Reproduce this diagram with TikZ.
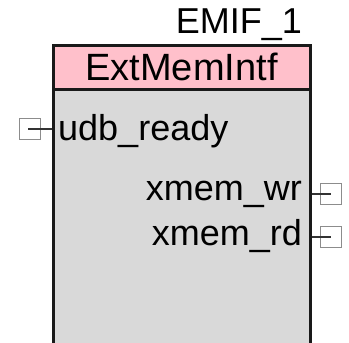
\documentclass[tikz,border=0pt]{standalone}
\usepackage{fontspec}
\setmainfont{Liberation Sans}
\definecolor{hdrpink}{RGB}{255,192,203}
\definecolor{bodygray}{RGB}{217,217,217}
\begin{document}
\begin{tikzpicture}[x=1pt,y=-1pt,
  lbl/.style={inner sep=0pt,font=\fontsize{36}{36}\selectfont},
  pinbox/.style={draw=black!45,line width=1pt,minimum width=21pt,minimum height=21pt,inner sep=0pt},
  pinline/.style={draw=black!80,line width=1.2pt}]
\useasboundingbox (0,0) rectangle (349,343);
% body
\node[draw=black!90,line width=3pt,fill=bodygray,minimum width=257pt,minimum height=310pt,inner sep=0pt,anchor=north west] (body) at (51.5,44) {};
\node[draw=black!90,line width=3pt,fill=hdrpink,minimum width=257pt,minimum height=44pt,inner sep=0pt,anchor=north west] (hdr) at (51.5,44) {};
\node[lbl,anchor=center,font=\fontsize{38}{38}\selectfont] (title) at ([yshift=1pt]hdr.center) {ExtMemIntf};
\node[lbl,anchor=base east] (inst) at (302,33) {EMIF\_1};
% pins
\node[lbl,anchor=base west] (udb) at (58,140) {udb\_ready};
\node[lbl,anchor=base east] (wr) at (302,200) {xmem\_wr};
\node[lbl,anchor=base east] (rd) at (302,245) {xmem\_rd};
\node[pinbox] (p1) at (30,129) {};
\node[pinbox] (p2) at (331,194) {};
\node[pinbox] (p3) at (331,237) {};
\coordinate (c1) at (28,129);
\coordinate (c2) at (331,194);
\coordinate (c3) at (331,237);
\draw[pinline] (c1) -- (body.west |- c1);
\draw[pinline] (body.east |- c2) -- (c2);
\draw[pinline] (body.east |- c3) -- (c3);
\end{tikzpicture}
\end{document}
